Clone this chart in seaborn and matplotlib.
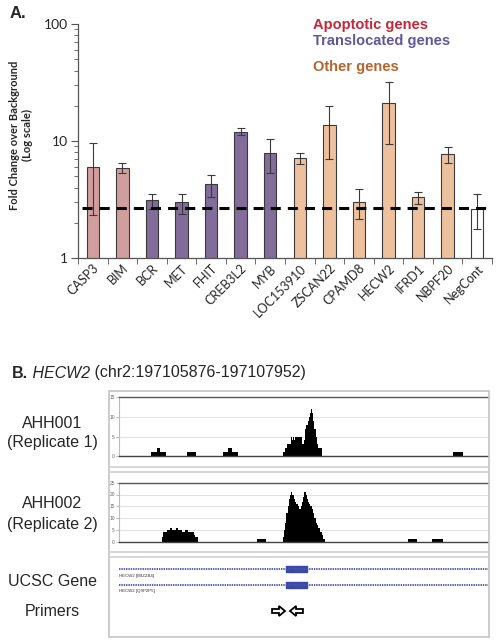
import matplotlib
matplotlib.use("Agg")
import matplotlib.pyplot as plt
import seaborn as sns
import numpy as np
from matplotlib.patches import Rectangle, FancyArrow
from matplotlib.lines import Line2D

# ---- panel A data: fold change over background (log scale) ----
genes = ['CASP3', 'BIM', 'BCR', 'MET', 'FHIT', 'CREB3L2', 'MYB', 'LOC153910',
         'ZSCAN22', 'CPAMD8', 'HECW2', 'IFRD1', 'NBPF20', 'NegCont']
fold = [6.0, 5.9, 3.13, 3.0, 4.3, 11.9, 7.85, 7.1, 13.7, 3.03, 21.0, 3.3, 7.75, 2.62]
err_hi = [9.6, 6.5, 3.5, 3.5, 5.1, 12.9, 10.3, 7.85, 20.0, 3.87, 32.0, 3.7, 8.9, 3.5]
err_lo = [2.33, 5.3, 2.6, 2.4, 3.3, 11.3, 5.36, 6.4, 6.97, 2.14, 9.4, 2.9, 6.5, 1.77]
group = ['apo', 'apo', 'trans', 'trans', 'trans', 'trans', 'trans', 'other',
         'other', 'other', 'other', 'other', 'other', 'neg']
background = 2.66

group_colors = {'apo': '#D99694', 'trans': '#8064A2', 'other': '#FAC090', 'neg': '#FFFFFF'}
legend_items = [('Apoptotic genes', '#C4273A'), ('Translocated genes', '#625799'),
                ('Other genes', '#B4652F')]

# ---- panel B data: coverage tracks (bp offset from region start) ----
region_start, region_end = 197105876, 197107952
region_len = region_end - region_start

pos1 = [0, 180, 212, 231, 263, 381, 432, 587, 615, 637, 668, 924, 934, 945, 968, 973,
        980, 985, 990, 1001, 1030, 1041, 1046, 1054, 1062, 1068, 1075, 1082, 1088,
        1094, 1099, 1106, 1112, 1121, 1140, 1881, 1937, 2076]
cov1 = [0, 1, 2, 1, 0, 1, 0, 1, 2, 1, 0, 1, 2, 3, 5, 4,
        5, 4, 5, 5, 3, 4, 7, 8, 9, 10, 11, 12, 11,
        9, 7, 5, 3, 2, 0, 1, 0, 0]

pos2 = [0, 240, 248, 258, 270, 287, 298, 309, 318, 325, 334, 343, 352, 360, 370, 381,
        390, 399, 411, 420, 428, 443, 775, 827, 921, 928, 934, 942, 949, 956, 962, 968,
        975, 982, 990, 997, 1005, 1012, 1018, 1025, 1031, 1037, 1043, 1050, 1056, 1062,
        1069, 1076, 1084, 1092, 1099, 1106, 1112, 1120, 1131, 1140, 1149, 1159, 1624,
        1678, 1763, 1821, 2076]
cov2 = [0, 2, 4, 4, 5, 6, 5, 5, 6, 6, 5, 5, 4, 4, 5, 5,
        4, 4, 4, 3, 2, 0, 1, 0, 2, 5, 8, 12, 15, 18, 20, 21,
        20, 18, 17, 16, 15, 14, 14, 15, 17, 19, 21, 20, 18, 17,
        16, 15, 14, 12, 10, 8, 7, 6, 4, 3, 1, 0, 1,
        0, 1, 0, 0]

exon = (938, 120)
transcripts = ['HECW2 [B8ZZB4]', 'HECW2 [Q9P2P5]']
primer_fwd = (861, 934)
primer_rev = (962, 1035)

W, H = 498, 642
fig = plt.figure(figsize=(W / 100, H / 100), dpi=100)
sns.set_style("white")
plt.rcParams['font.family'] = ['Lato', 'DejaVu Sans']


def box(l, t, r, b):
    return [l / W, 1 - b / H, (r - l) / W, (b - t) / H]


def fx(x):
    return x / W


def fy(y):
    return 1 - y / H


# ---------------- panel A ----------------
axA = fig.add_axes(box(78, 24, 492, 258))
axA.set_facecolor('white')
sns.barplot(x=genes, y=fold, hue=genes, palette=[group_colors[g] for g in group],
            legend=False, edgecolor='#3a3a3a', linewidth=0.8, width=0.42, ax=axA)
fold_a = np.array(fold)
axA.errorbar(np.arange(len(genes)), fold_a,
             yerr=[fold_a - np.array(err_lo), np.array(err_hi) - fold_a],
             fmt='none', ecolor='#3a3a3a', elinewidth=0.8, capsize=3, capthick=0.8)
axA.set_yscale('log')
axA.set_ylim(1, 100)
axA.set_xlim(-0.5, len(genes) - 0.5)
axA.axhline(background, xmin=0.01, xmax=0.995, color='black', lw=2.2,
            dashes=(3.3, 2.3), zorder=5)
for s in ['top', 'right']:
    axA.spines[s].set_visible(False)
for s in ['left', 'bottom']:
    axA.spines[s].set_color('#555555')
    axA.spines[s].set_linewidth(0.9)
axA.set_yticks([1, 10, 100])
axA.set_yticklabels(['1', '10', '100'], fontsize=10)
axA.tick_params(axis='y', which='major', length=5, color='#555555', pad=2, left=True)
axA.tick_params(axis='y', which='minor', length=3, color='#555555', left=True)
axA.set_xticks(np.arange(-0.5, len(genes)), minor=True)
axA.tick_params(axis='x', which='major', length=0, pad=3)
axA.tick_params(axis='x', which='minor', length=4, color='#555555', bottom=True)
axA.set_xticks(np.arange(len(genes)))
axA.set_xticklabels(genes, rotation=45, ha='right', rotation_mode='anchor', fontsize=9)
axA.set_xlabel('')
axA.set_ylabel('')

fig.text(fx(21), fy(135), 'Fold Change over Background\n(Log scale)', rotation=90,
         ha='center', va='center', fontsize=8, fontweight='bold', linespacing=1.3)
fig.text(fx(10), fy(13), 'A.', ha='left', va='center', fontsize=12, fontweight='bold',
         family='Liberation Sans')
for (txt, col), yy in zip(legend_items, [25, 41, 67]):
    fig.text(fx(313), fy(yy), txt, color=col, ha='left', va='center', fontsize=10.5,
             fontweight='bold', family='Liberation Sans')

# ---------------- panel B ----------------
arial = 'Liberation Sans'
t1 = fig.text(fx(12), fy(373), 'B.', ha='left', va='center', fontsize=11.5,
              fontweight='bold', family=arial)
t2 = axA.annotate(' HECW2', xy=(1, 0), xycoords=t1, ha='left', va='bottom',
                  fontsize=11.5, style='italic', family=arial, annotation_clip=False)
axA.annotate(' (chr2:%d-%d)' % (region_start, region_end), xy=(1, 0), xycoords=t2,
             ha='left', va='bottom', fontsize=11.5, family=arial, annotation_clip=False)

fig.add_artist(Rectangle((fx(109), fy(637)), (489 - 109) / W, (637 - 391) / H,
                         transform=fig.transFigure, fill=False, ec='#c4c4c4', lw=1.2))
for yy in [467, 472, 551.7, 556.7]:
    fig.add_artist(Line2D([fx(109), fx(489)], [fy(yy), fy(yy)], transform=fig.transFigure,
                          color='#cfcfcf', lw=1.2))

for pos, cov, (top, bot), ymax, step in [(pos1, cov1, (397, 456.3), 15, 5),
                                         (pos2, cov2, (482.7, 541.7), 25, 5)]:
    ax = fig.add_axes(box(119, top, 488, bot))
    ax.fill_between(pos, cov, step='post', color='black', lw=0)
    ax.set_xlim(0, region_len)
    ax.set_ylim(0, ymax)
    ax.set_yticks(np.arange(0, ymax + 1, step))
    ax.set_xticks([])
    ax.grid(axis='y', color='#e2e2e2', lw=0.8)
    ax.set_axisbelow(True)
    ax.tick_params(axis='y', labelsize=3.5, labelcolor='#666666', length=2,
                   color='#bbbbbb', pad=1, left=True)
    for lab in ax.get_yticklabels():
        lab.set_family(arial)
    ax.spines['right'].set_visible(False)
    ax.spines['top'].set_color('#555555')
    ax.spines['top'].set_linewidth(1.0)
    ax.spines['bottom'].set_color('#444444')
    ax.spines['bottom'].set_linewidth(1.0)
    ax.spines['left'].set_color('#bbbbbb')
    ax.spines['left'].set_linewidth(0.8)

axG = fig.add_axes(box(119, 557, 488, 637))
axG.set_xlim(0, region_len)
axG.set_ylim(637, 557)
axG.axis('off')
for name, yy in zip(transcripts, [569, 584.7]):
    axG.plot([0, region_len], [yy, yy], color='#4a55b0', lw=1.3, ls=(0, (0.8, 0.5)))
    axG.broken_barh([exon], (yy - 2.8, 5.6), color='#3a48a8')
    axG.text(0, yy + 6.5, name, fontsize=3.2, ha='left', va='center', family=arial,
             color='#333333')
axG.add_patch(FancyArrow(primer_fwd[0], 611, primer_fwd[1] - primer_fwd[0], 0, width=4,
                         head_width=10, head_length=34, length_includes_head=True,
                         fc='white', ec='black', lw=1.3))
axG.add_patch(FancyArrow(primer_rev[1], 611, primer_rev[0] - primer_rev[1], 0, width=4,
                         head_width=10, head_length=34, length_includes_head=True,
                         fc='white', ec='black', lw=1.3))

for lines, yy in [(['AHH001', '(Replicate 1)'], [424, 443]),
                  (['AHH002', '(Replicate 2)'], [503, 524]),
                  (['UCSC Gene'], [581]), (['Primers'], [611])]:
    for txt, y in zip(lines, yy):
        fig.text(fx(52), fy(y), txt, ha='center', va='center', fontsize=11.5, family=arial)

fig.savefig('out.png', dpi=100)
